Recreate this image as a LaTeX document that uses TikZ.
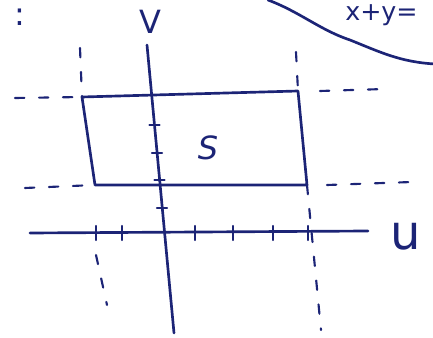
\documentclass[tikz,border=0pt]{standalone}
\usepackage{fontspec}
\setmainfont{DejaVu Sans}
\definecolor{ink}{RGB}{28,36,118}
\tikzset{
  pen/.style={draw=ink, line width=2pt, line cap=round, line join=round},
  dashpen/.style={draw=ink, line width=1.6pt, line cap=round, dash pattern=on 7pt off 11pt},
  tickmark/.style={draw=ink, line width=1.6pt, line cap=round},
  lbl/.style={text=ink, inner sep=0pt}
}
\begin{document}
\begin{tikzpicture}[x=0.75pt,y=-0.75pt]
\useasboundingbox (0,0) rectangle (433,338);
% axes
\coordinate (vtop) at (147,45);
\coordinate (vbot) at (174,333);
\coordinate (uleft) at (30,233);
\coordinate (uright) at (368,231);
\draw[pen] (vtop) -- (vbot);
\draw[pen] (uleft) -- (uright);
\node[lbl, font=\fontsize{24}{24}\selectfont] (vlab) at (150,22) {V};
\node[lbl, font=\fontsize{36}{36}\selectfont] (ulab) at (406,236) {u};
% ticks on u axis
\foreach \x in {96,122,195,233,273,308} {
  \draw[tickmark] (\x,226) -- (\x,240);
}
% ticks on v axis
\foreach \y/\x in {125/154.5,153/157,180/159.5,208/162} {
  \draw[tickmark] (\x-5,\y) -- (\x+5,\y);
}
% rectangle S
\coordinate (tl) at (82,97);
\coordinate (tr) at (298,91);
\coordinate (br) at (307,185);
\coordinate (bl) at (95,185);
\draw[pen] (tl) -- (tr) -- (br) -- (bl) -- cycle;
\node[lbl, font=\itshape\fontsize{24}{24}\selectfont] (slab) at (208,148) {S};
% dashed guide lines
\draw[dashpen] (15,98) -- (tl);
\draw[dashpen] (tr) ++(22,0) -- (385,89);
\draw[dashpen] (25,188) -- (bl);
\draw[dashpen] (br) ++(20,0) -- (412,182);
\draw[dashpen] (80,48) -- (tl);
\draw[dashpen] (96,255) -- (107,305);
\draw[dashpen] (296,52) -- (tr);
\draw[dashpen] (br) -- (321,330);
% curve and text at top
\draw[pen] (268,0) .. controls (300,12) and (320,30) .. (350,40) .. controls (380,52) and (400,62) .. (435,64);
\node[lbl, font=\fontsize{19}{19}\selectfont, anchor=west] (eq) at (345,15) {x+y=};
\node[lbl, font=\fontsize{24}{24}\selectfont] (colon) at (20,17) {:};
\end{tikzpicture}
\end{document}
